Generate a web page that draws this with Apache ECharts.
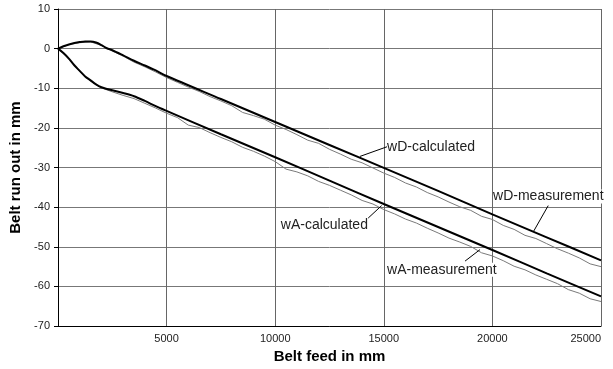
<!DOCTYPE html>
<html>
<head>
<meta charset="utf-8">
<script src="https://cdn.jsdelivr.net/npm/echarts@6/dist/echarts.min.js"></script>
<style>
html,body{margin:0;padding:0;background:#fff;overflow:hidden;}
#chart{width:613px;height:369px;}
</style>
</head>
<body>
<div id="chart"></div>
<script>
// ---- data ----
var xTickLabels = ['0', '5000', '10000', '15000', '20000', '25000'];
var yTickLabels = ['-70', '-60', '-50', '-40', '-30', '-20', '-10', '0', '10'];

var calcX = [0, 250, 500, 750, 1000, 1250, 1500, 1750, 2000, 2250, 2500, 3000, 3500, 4000, 4500, 5000,
             7500, 10000, 12500, 15000, 17500, 20000, 22500, 25000];
var wDCalc = [0, 0.6, 1.05, 1.4, 1.65, 1.8, 1.8, 1.55, 0.9, 0.1, -0.4, -1.7, -3.05, -4.25, -5.5, -6.9,
              -12.7, -18.5, -24.3, -30.1, -35.9, -41.8, -47.6, -53.4];
var wACalc = [0, -1.1, -2.5, -4.2, -5.6, -7.0, -8.0, -9.0, -9.75, -10.2, -10.5, -11.2, -12.0, -13.2, -14.5, -15.7,
              -21.6, -27.4, -33.3, -39.2, -45.0, -50.8, -56.7, -62.5];

var measX = [0, 500, 1000, 1500, 2000, 2500, 3000, 3500, 4000, 4500, 5000, 5500, 6000, 6500, 7000, 7500,
             8000, 8500, 9000, 9500, 10000, 10500, 11000, 11500, 12000, 12500, 13000, 13500, 14000, 14500,
             15000, 15500, 16000, 16500, 17000, 17500, 18000, 18500, 19000, 19500, 20000, 20500, 21000,
             21500, 22000, 22500, 23000, 23500, 24000, 24500, 25000];
var wDMeas = [0, 1.0, 1.5, 1.7, 0.8, -0.6, -1.9, -3.4, -4.6, -5.9, -7.3, -8.5, -9.7, -10.8, -12.1, -13.2,
              -14.4, -16.1, -16.9, -17.8, -19.3, -20.4, -21.7, -23.1, -23.9, -25.4, -26.6, -27.9, -28.8, -30.1,
              -31.4, -32.5, -33.9, -34.9, -36.3, -37.4, -38.7, -39.9, -40.8, -42.3, -43.1, -44.6, -45.6,
              -47.1, -47.9, -49.2, -50.5, -51.6, -52.8, -54.3, -55.0];
var wAMeas = [0, -2.6, -5.8, -8.2, -9.9, -10.9, -11.8, -12.6, -13.8, -15.0, -16.3, -17.4, -19.3, -19.9, -21.2, -22.4,
              -23.5, -24.9, -25.9, -27.1, -28.5, -30.4, -31.1, -32.1, -33.5, -34.5, -35.7, -36.9, -38.3, -39.2,
              -40.6, -41.7, -43.0, -44.0, -45.3, -46.5, -47.8, -48.8, -49.9, -51.5, -52.3, -53.5, -54.9,
              -55.8, -57.1, -58.2, -59.3, -60.8, -61.7, -63.1, -63.8];

// annotation labels (data coords): text anchor, leader start, leader end
var annNames   = ['wD-calculated', 'wA-calculated', 'wD-measurement', 'wA-measurement'];
var annText    = [[15150, -24.75], [14270, -44.6], [20030, -37.3], [15150, -55.8]];
var annAlign   = ['left', 'right', 'left', 'left'];
var annFrom    = [[15150, -24.75], [14280, -42.75], [22570, -39.6], [18740, -53.6]];
var annTo      = [[13900, -27.2], [14900, -39.6], [21880, -46.25], [19430, -50.7]];

function zip(xs, ys) { return xs.map(function (x, i) { return [x, ys[i]]; }); }

var FONT = '"Liberation Sans", Arial, sans-serif';
var chart = echarts.init(document.getElementById('chart'), null, {renderer: 'canvas'});

var option = {
  animation: false,
  backgroundColor: '#fff',
  grid: {left: 58, right: 12, top: 9, bottom: 40, containLabel: false},
  xAxis: {
    type: 'value', min: 0, max: 25000, interval: 5000,
    name: 'Belt feed in mm', nameLocation: 'middle', nameGap: 18,
    nameTextStyle: {fontFamily: FONT, fontWeight: 'bold', fontSize: 15, color: '#000'},
    axisLine: {show: true, onZero: false, lineStyle: {color: '#000', width: 1}},
    axisTick: {show: false},
    axisLabel: {
      showMinLabel: false, alignMaxLabel: 'right', margin: 7, fontFamily: FONT, fontSize: 11, color: '#222',
      formatter: function (v) { return xTickLabels[Math.round(v / 5000)]; }
    },
    splitLine: {show: true, lineStyle: {color: '#666', width: 1}}
  },
  yAxis: {
    type: 'value', min: -70, max: 10, interval: 10,
    name: 'Belt run out in mm', nameLocation: 'middle', nameGap: 30, nameRotate: 90,
    nameTextStyle: {fontFamily: FONT, fontWeight: 'bold', fontSize: 15, color: '#000'},
    axisLine: {show: true, onZero: false, lineStyle: {color: '#000', width: 1}},
    axisTick: {show: true, inside: false, length: 4, lineStyle: {color: '#000'}},
    axisLabel: {
      margin: 8, fontFamily: FONT, fontSize: 11, color: '#222',
      formatter: function (v) { return yTickLabels[Math.round((v + 70) / 10)]; }
    },
    splitLine: {show: true, lineStyle: {color: '#777', width: 1}}
  },
  series: [
    {name: 'wD-measurement', type: 'line', data: zip(measX, wDMeas), showSymbol: false, symbol: 'none',
     lineStyle: {color: '#7a7a7a', width: 1}, z: 2},
    {name: 'wA-measurement', type: 'line', data: zip(measX, wAMeas), showSymbol: false, symbol: 'none',
     lineStyle: {color: '#7a7a7a', width: 1}, z: 2},
    {name: 'wD-calculated', type: 'line', data: zip(calcX, wDCalc), showSymbol: false, symbol: 'none',
     smooth: 0.3, lineStyle: {color: '#000', width: 2}, z: 3},
    {name: 'wA-calculated', type: 'line', data: zip(calcX, wACalc), showSymbol: false, symbol: 'none',
     smooth: 0.3, lineStyle: {color: '#000', width: 2}, z: 3}
  ]
};
chart.setOption(option);

var graphics = [];
for (var i = 0; i < annNames.length; i++) {
  var tp = chart.convertToPixel({gridIndex: 0}, annText[i]);
  var fp = chart.convertToPixel({gridIndex: 0}, annFrom[i]);
  var ep = chart.convertToPixel({gridIndex: 0}, annTo[i]);
  graphics.push({
    type: 'line', z: 10, silent: true,
    shape: {x1: fp[0], y1: fp[1], x2: ep[0], y2: ep[1]},
    style: {stroke: '#000', lineWidth: 1}
  });
  graphics.push({
    type: 'text', z: 10, silent: true, x: tp[0], y: tp[1],
    style: {text: annNames[i], fill: '#222', font: '14px ' + FONT,
            textAlign: annAlign[i], textVerticalAlign: 'middle', backgroundColor: '#fff'}
  });
}
chart.setOption({graphic: graphics});
</script>
</body>
</html>
